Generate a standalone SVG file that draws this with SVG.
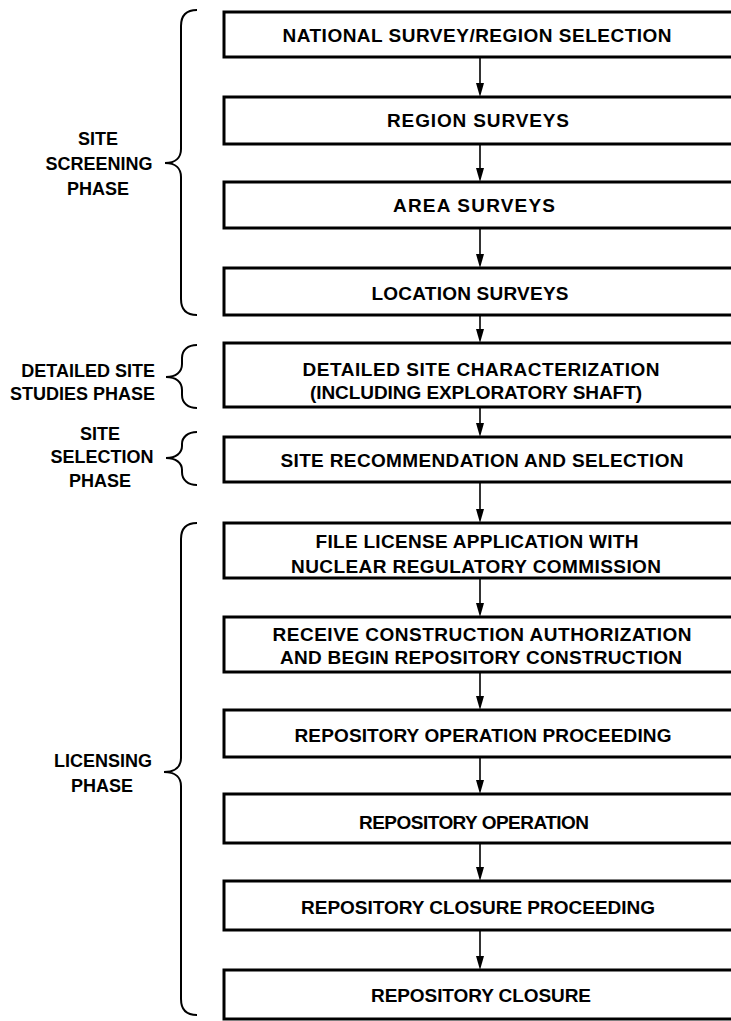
<svg xmlns="http://www.w3.org/2000/svg" width="731" height="1021" viewBox="0 0 731 1021">
<style>
.box{fill:#fff;stroke:#000;stroke-width:3}
.t{font-family:"Liberation Sans",Arial,sans-serif;font-weight:bold;font-size:19px;text-anchor:middle;fill:#000}
.lbl{font-family:"Liberation Sans",Arial,sans-serif;font-weight:bold;font-size:18px;text-anchor:middle;fill:#000}
.lblr{font-family:"Liberation Sans",Arial,sans-serif;font-weight:bold;font-size:18px;text-anchor:end;fill:#000}
.br{fill:none;stroke:#000;stroke-width:2}
.ar{stroke:#000;stroke-width:1.6;fill:none}
.ah{fill:#000}
</style>
<rect width="731" height="1021" fill="#fff"/>
<g id="connectors">
<line class="ar" x1="480" y1="57" x2="480" y2="84"/><path class="ah" d="M476,83 L484,83 L480,97 Z"/>
<line class="ar" x1="480" y1="144" x2="480" y2="169"/><path class="ah" d="M476,168 L484,168 L480,182 Z"/>
<line class="ar" x1="480" y1="228" x2="480" y2="255"/><path class="ah" d="M476,254 L484,254 L480,268 Z"/>
<line class="ar" x1="480" y1="315" x2="480" y2="330"/><path class="ah" d="M476,329 L484,329 L480,343 Z"/>
<line class="ar" x1="480" y1="407" x2="480" y2="424"/><path class="ah" d="M476,423 L484,423 L480,437 Z"/>
<line class="ar" x1="480" y1="482" x2="480" y2="510"/><path class="ah" d="M476,509 L484,509 L480,523 Z"/>
<line class="ar" x1="480" y1="578" x2="480" y2="604"/><path class="ah" d="M476,603 L484,603 L480,617 Z"/>
<line class="ar" x1="480" y1="672" x2="480" y2="697"/><path class="ah" d="M476,696 L484,696 L480,710 Z"/>
<line class="ar" x1="480" y1="757" x2="480" y2="781"/><path class="ah" d="M476,780 L484,780 L480,794 Z"/>
<line class="ar" x1="480" y1="843" x2="480" y2="868"/><path class="ah" d="M476,867 L484,867 L480,881 Z"/>
<line class="ar" x1="480" y1="930" x2="480" y2="957"/><path class="ah" d="M476,956 L484,956 L480,970 Z"/>
</g>
<g id="n1"><rect class="box" x="224" y="12" width="520" height="45"/><text class="t" x="477" y="41.5" textLength="389">NATIONAL SURVEY/REGION SELECTION</text></g>
<g id="n2"><rect class="box" x="224" y="97" width="520" height="47"/><text class="t" x="478" y="127" textLength="182">REGION SURVEYS</text></g>
<g id="n3"><rect class="box" x="224" y="182" width="520" height="46"/><text class="t" x="474" y="211.5" textLength="162">AREA SURVEYS</text></g>
<g id="n4"><rect class="box" x="224" y="268" width="520" height="47"/><text class="t" x="470" y="300" textLength="197">LOCATION SURVEYS</text></g>
<g id="n5"><rect class="box" x="224" y="343" width="520" height="64"/><text class="t" x="481" y="376" textLength="357">DETAILED SITE CHARACTERIZATION</text><text class="t" x="476" y="398.5" textLength="332">(INCLUDING EXPLORATORY SHAFT)</text></g>
<g id="n6"><rect class="box" x="224" y="437" width="520" height="45"/><text class="t" x="482" y="467" textLength="403">SITE RECOMMENDATION AND SELECTION</text></g>
<g id="n7"><rect class="box" x="224" y="523" width="520" height="55"/><text class="t" x="477" y="548" textLength="323">FILE LICENSE APPLICATION WITH</text><text class="t" x="476" y="573" textLength="370">NUCLEAR REGULATORY COMMISSION</text></g>
<g id="n8"><rect class="box" x="224" y="617" width="520" height="55"/><text class="t" x="482" y="641" textLength="419">RECEIVE CONSTRUCTION AUTHORIZATION</text><text class="t" x="481" y="664" textLength="402">AND BEGIN REPOSITORY CONSTRUCTION</text></g>
<g id="n9"><rect class="box" x="224" y="710" width="520" height="47"/><text class="t" x="483" y="742" textLength="377">REPOSITORY OPERATION PROCEEDING</text></g>
<g id="n10"><rect class="box" x="224" y="794" width="520" height="49"/><text class="t" x="474" y="829" textLength="230">REPOSITORY OPERATION</text></g>
<g id="n11"><rect class="box" x="224" y="881" width="520" height="49"/><text class="t" x="478" y="914" textLength="354">REPOSITORY CLOSURE PROCEEDING</text></g>
<g id="n12"><rect class="box" x="224" y="970" width="520" height="49"/><text class="t" x="481" y="1002" textLength="220">REPOSITORY CLOSURE</text></g>
<g id="phase-screening">
<path class="br" d="M197,10 C186,10 181,16 181,26 L181,149 C181,157 176,163 165,163 C176,163 181,169 181,177 L181,299 C181,309 186,315 197,315"/>
<text class="lbl" x="98" y="145">SITE</text><text class="lbl" x="99" y="170">SCREENING</text><text class="lbl" x="98" y="195">PHASE</text>
</g>
<g id="phase-detailed">
<path class="br" d="M197,345 C188,345 182,350 182,358 L182,364 C182,372 176,377 166,377 C176,377 182,382 182,390 L182,395 C182,403 188,408 197,408"/>
<text class="lblr" x="155" y="377">DETAILED SITE</text><text class="lblr" x="155" y="400">STUDIES PHASE</text>
</g>
<g id="phase-selection">
<path class="br" d="M197,432 C188,432 182,437 182,444 L182,446 C182,453 176,458 166,458 C176,458 182,463 182,470 L182,472 C182,480 188,485 197,485"/>
<text class="lbl" x="100" y="440">SITE</text><text class="lbl" x="102" y="463">SELECTION</text><text class="lbl" x="100" y="487">PHASE</text>
</g>
<g id="phase-licensing">
<path class="br" d="M197,523 C186,523 181,529 181,539 L181,758 C181,766 176,772 164,772 C176,772 181,778 181,786 L181,999 C181,1009 186,1015 197,1015"/>
<text class="lbl" x="103" y="767">LICENSING</text><text class="lbl" x="102" y="792">PHASE</text>
</g>
</svg>
